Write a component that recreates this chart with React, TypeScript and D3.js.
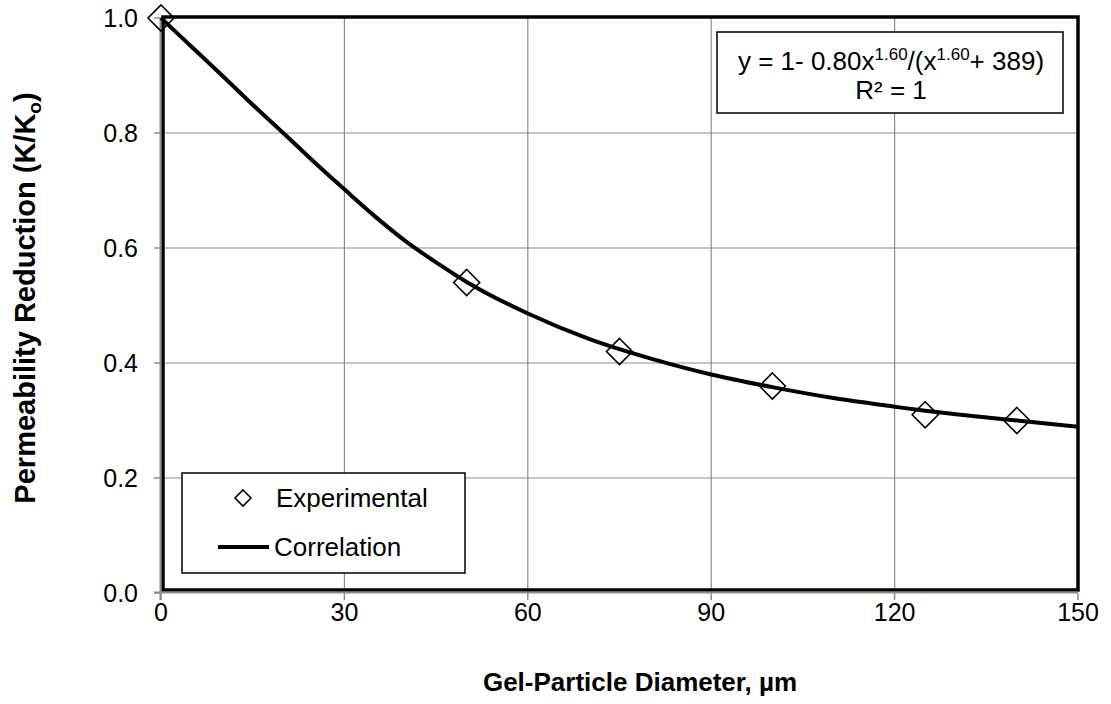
import React from "react";
import * as d3 from "d3";

// Measured permeability reduction (K/Ko) vs gel-particle diameter (µm)
const expDiameter = [0, 50, 75, 100, 125, 140];
const expK = [1.0, 0.54, 0.42, 0.36, 0.31, 0.30];

// Correlation curve, sampled along the plotted line
const corrDiameter = [0, 5, 10, 15, 20, 25, 30, 35, 40, 45, 50, 60, 70, 75, 80, 90, 100, 110, 120, 125, 130, 140, 150];
const corrK = [1.0, 0.95, 0.90, 0.849, 0.80, 0.75, 0.702, 0.655, 0.612, 0.575, 0.541, 0.486, 0.442, 0.424, 0.408, 0.380, 0.358, 0.339, 0.324, 0.317, 0.311, 0.300, 0.289];

const xTicks = [0, 30, 60, 90, 120, 150];
const yTicks = [0, 0.2, 0.4, 0.6, 0.8, 1.0];

const W = 1111;
const H = 704;
const FONT = "'Liberation Sans', Arial, sans-serif";

export default function App() {
  const x = d3.scaleLinear().domain([0, 150]).range([161, 1078]);
  const y = d3.scaleLinear().domain([0, 1]).range([593, 18]);

  const line = d3
    .line<number>()
    .x((_, i) => x(corrDiameter[i]))
    .y((d) => y(d))
    .curve(d3.curveMonotoneX);

  const diamond = (cx: number, cy: number, r: number) =>
    `M${cx},${cy - r}L${cx + r},${cy}L${cx},${cy + r}L${cx - r},${cy}Z`;

  const grid = "#8c8c8c";

  return (
    <svg
      width={W}
      height={H}
      style={{ position: "absolute", left: 0, top: 0, background: "#fff" }}
      fontFamily={FONT}
    >
      {/* gridlines */}
      {xTicks.slice(1, -1).map((t) => (
        <line key={"gx" + t} x1={x(t)} x2={x(t)} y1={y(1)} y2={y(0)} stroke={grid} strokeWidth={1.2} />
      ))}
      {yTicks.slice(1, -1).map((t) => (
        <line key={"gy" + t} x1={x(0)} x2={x(150)} y1={y(t)} y2={y(t)} stroke={grid} strokeWidth={1.2} />
      ))}

      {/* plot frame */}
      <rect x={163} y={17} width={1078 - 163} height={590 - 17} fill="none" stroke="#000" strokeWidth={3.5} />

      {/* axis lines and ticks */}
      <line x1={160.5} x2={160.5} y1={y(1)} y2={y(0) + 7} stroke={grid} strokeWidth={2} />
      <line x1={x(0) - 7} x2={x(150)} y1={592.5} y2={592.5} stroke={grid} strokeWidth={2} />
      {yTicks.map((t) => (
        <line key={"ty" + t} x1={154} x2={161} y1={y(t)} y2={y(t)} stroke={grid} strokeWidth={1.5} />
      ))}
      {xTicks.map((t) => (
        <line key={"tx" + t} x1={x(t)} x2={x(t)} y1={593} y2={600} stroke={grid} strokeWidth={1.5} />
      ))}

      {/* tick labels */}
      {yTicks.map((t) => (
        <text key={"ly" + t} x={138} y={y(t) + 9} textAnchor="end" fontSize={25} fill="#000">
          {t.toFixed(1)}
        </text>
      ))}
      {xTicks.map((t) => (
        <text key={"lx" + t} x={x(t)} y={621} textAnchor="middle" fontSize={25} fill="#000">
          {t}
        </text>
      ))}

      {/* correlation curve */}
      <path d={line(corrK) || ""} fill="none" stroke="#000" strokeWidth={4} strokeLinejoin="round" />

      {/* experimental points */}
      {expDiameter.map((d, i) => (
        <path key={"p" + d} d={diamond(x(d), y(expK[i]), 13)} fill="none" stroke="#000" strokeWidth={1.6} />
      ))}

      {/* equation box */}
      <rect x={717} y={32} width={346} height={81} fill="#fff" stroke="#000" strokeWidth={1.5} />
      <text x={891} y={70} textAnchor="middle" fontSize={26} fill="#000">
        <tspan>y = 1- 0.80x</tspan>
        <tspan fontSize={17} dy={-10}>1.60</tspan>
        <tspan dy={10}>/(x</tspan>
        <tspan fontSize={17} dy={-10}>1.60</tspan>
        <tspan dy={10}>+ 389)</tspan>
      </text>
      <text x={891} y={99} textAnchor="middle" fontSize={26} fill="#000">
        R² = 1
      </text>

      {/* legend */}
      <rect x={182} y={473} width={283} height={100} fill="#fff" stroke="#000" strokeWidth={1.5} />
      <path d={diamond(243, 498, 8)} fill="none" stroke="#000" strokeWidth={1.6} />
      <text x={276} y={507} fontSize={26} fill="#000">Experimental</text>
      <line x1={218} x2={269} y1={547} y2={547} stroke="#000" strokeWidth={4} />
      <text x={274} y={556} fontSize={26} fill="#000">Correlation</text>

      {/* axis titles */}
      <text x={640} y={691} textAnchor="middle" fontSize={26} fontWeight="bold" fill="#000">
        Gel-Particle Diameter, µm
      </text>
      <text
        transform="translate(35,298) rotate(-90)"
        textAnchor="middle"
        fontSize={29}
        fontWeight="bold"
        fill="#000"
      >
        <tspan>Permeability Reduction (K/K</tspan>
        <tspan fontSize={19} dy={6}>o</tspan>
        <tspan dy={-6}>)</tspan>
      </text>
    </svg>
  );
}
